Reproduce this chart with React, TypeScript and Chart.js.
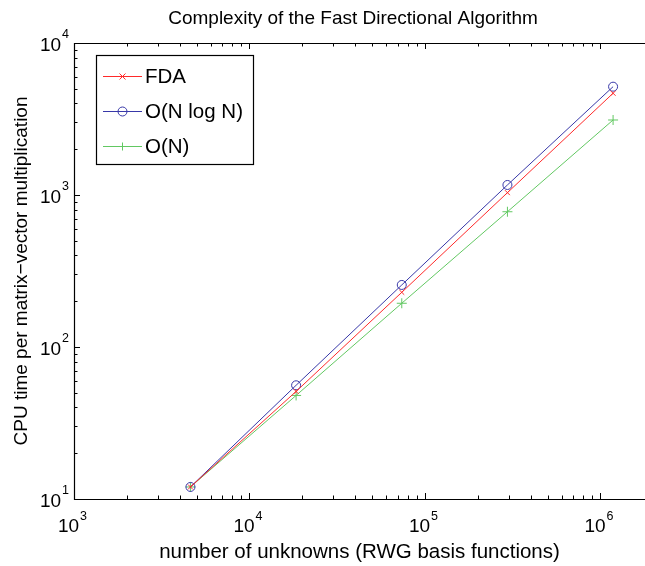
import React, { useEffect, useRef } from "react";
import { Chart, registerables } from "chart.js";

Chart.register(...registerables);

// ---- data ----
const unknowns = [4608, 18432, 73728, 294912, 1179648];
const fdaTime = [12, 51, 229, 1036, 4670];
const nlognTime = [12, 56, 256, 1164, 5160];
const linearTime = [12, 48, 194, 776, 3115];
const seriesLabels = ["FDA", "O(N log N)", "O(N)"];
const xTickExponents = [3, 4, 5, 6];
const yTickExponents = [1, 2, 3, 4];
const chartTitle = "Complexity of the Fast Directional Algorithm";
const xAxisTitle = "number of unknowns (RWG basis functions)";
const yAxisTitle = "CPU time per matrix\u2212vector multiplication";

const FONT = "'Liberation Sans', Arial, Helvetica, sans-serif";
const RED = "#ff2a2a";
const BLUE = "#3838a8";
const GREEN = "#62c862";
const seriesColors = [RED, BLUE, GREEN];
const seriesMarkers = ["crossRot", "circle", "cross"];

function drawMarker(ctx: CanvasRenderingContext2D, kind: string, x: number, y: number, color: string) {
  ctx.save();
  ctx.strokeStyle = color;
  ctx.lineWidth = 1;
  ctx.beginPath();
  if (kind === "crossRot") {
    const r = 3;
    ctx.moveTo(x - r, y - r); ctx.lineTo(x + r, y + r);
    ctx.moveTo(x + r, y - r); ctx.lineTo(x - r, y + r);
  } else if (kind === "circle") {
    ctx.arc(x, y, 4.5, 0, Math.PI * 2);
  } else {
    const r = 4;
    ctx.moveTo(x - r, y); ctx.lineTo(x + r, y);
    ctx.moveTo(x, y - r); ctx.lineTo(x, y + r);
  }
  ctx.stroke();
  ctx.restore();
}

const decorPlugin = {
  id: "decor",
  afterDatasetsDraw(chart: any) {
    const ctx: CanvasRenderingContext2D = chart.ctx;
    const area = chart.chartArea;
    const xs = chart.scales.x;
    const ys = chart.scales.y;
    ctx.save();
    // axes box (left, top, bottom)
    ctx.strokeStyle = "#000";
    ctx.lineWidth = 1.2;
    ctx.beginPath();
    ctx.moveTo(area.right + 1, Math.round(area.top) + 0.5);
    ctx.lineTo(Math.round(area.left) + 0.5, Math.round(area.top) + 0.5);
    ctx.lineTo(Math.round(area.left) + 0.5, Math.round(area.bottom) + 0.5);
    ctx.lineTo(area.right + 1, Math.round(area.bottom) + 0.5);
    ctx.stroke();

    // ticks
    ctx.lineWidth = 1;
    ctx.beginPath();
    for (let k = 2; k <= 7; k++) {
      for (let m = 1; m <= 9; m++) {
        const v = m * Math.pow(10, k);
        if (v < xs.min || v > xs.max) continue;
        const px = Math.round(xs.getPixelForValue(v)) + 0.5;
        const len = m === 1 ? 6 : 3.5;
        ctx.moveTo(px, area.bottom); ctx.lineTo(px, area.bottom - len);
        ctx.moveTo(px, area.top); ctx.lineTo(px, area.top + len);
      }
    }
    for (let k = 0; k <= 5; k++) {
      for (let m = 1; m <= 9; m++) {
        const v = m * Math.pow(10, k);
        if (v < ys.min || v > ys.max) continue;
        const py = Math.round(ys.getPixelForValue(v)) + 0.5;
        const len = m === 1 ? 6 : 3.5;
        ctx.moveTo(area.left, py); ctx.lineTo(area.left + len, py);
      }
    }
    ctx.stroke();

    // tick labels
    ctx.fillStyle = "#000";
    const baseFont = `19px ${FONT}`;
    const supFont = `12.5px ${FONT}`;
    ctx.textBaseline = "alphabetic";
    ctx.textAlign = "left";
    for (const e of xTickExponents) {
      const px = xs.getPixelForValue(Math.pow(10, e));
      ctx.font = baseFont;
      const w1 = ctx.measureText("10").width;
      ctx.font = supFont;
      const w2 = ctx.measureText(String(e)).width;
      const x0 = px - (w1 + w2) / 2 - 2;
      ctx.font = baseFont;
      ctx.fillText("10", x0, area.bottom + 33);
      ctx.font = supFont;
      ctx.fillText(String(e), x0 + w1 + 1, area.bottom + 21);
    }
    for (const e of yTickExponents) {
      const py = ys.getPixelForValue(Math.pow(10, e));
      ctx.font = supFont;
      const w2 = ctx.measureText(String(e)).width;
      ctx.font = baseFont;
      const w1 = ctx.measureText("10").width;
      const xr = area.left - 5;
      ctx.fillText("10", xr - w2 - 1 - w1, py + 8);
      ctx.font = supFont;
      ctx.fillText(String(e), xr - w2, py - 5);
    }

    // legend
    const lx = 96, ly = 55, lw = 157, lh = 109;
    ctx.fillStyle = "#fff";
    ctx.fillRect(lx, ly, lw, lh);
    ctx.strokeStyle = "#000";
    ctx.lineWidth = 1.2;
    ctx.strokeRect(lx + 0.5, ly + 0.5, lw, lh);
    const rows = [76, 111, 146];
    chart.data.datasets.forEach((ds: any, i: number) => {
      const y = rows[i] + 0.5;
      ctx.strokeStyle = ds.borderColor;
      ctx.lineWidth = 1;
      ctx.beginPath();
      ctx.moveTo(103, y); ctx.lineTo(142, y);
      ctx.stroke();
      drawMarker(ctx, seriesMarkers[i], 122.5, y, ds.borderColor);
      ctx.fillStyle = "#000";
      ctx.font = `20.5px ${FONT}`;
      ctx.textAlign = "left";
      ctx.textBaseline = "middle";
      ctx.fillText(ds.label, 145, rows[i] + 1);
    });

    // title
    ctx.fillStyle = "#000";
    ctx.font = `19px ${FONT}`;
    ctx.textAlign = "center";
    ctx.textBaseline = "middle";
    ctx.fillText(chartTitle, 353, 19);
    ctx.restore();
  },
};

export default function App() {
  const ref = useRef<HTMLCanvasElement | null>(null);
  useEffect(() => {
    if (!ref.current) return;
    const mk = (vals: number[]) => unknowns.map((x, i) => ({ x, y: vals[i] }));
    const seriesValues = [fdaTime, nlognTime, linearTime];
    const chart = new Chart(ref.current, {
      type: "line",
      data: {
        datasets: seriesValues.map((vals, i) => ({
          label: seriesLabels[i],
          data: mk(vals),
          borderColor: seriesColors[i],
          backgroundColor: "rgba(0,0,0,0)",
          pointBackgroundColor: "rgba(0,0,0,0)",
          pointBorderColor: seriesColors[i],
          pointStyle: seriesMarkers[i] as any,
          pointRadius: i === 0 ? 3.5 : i === 1 ? 4.5 : 5,
          pointBorderWidth: 1,
          borderWidth: 1,
          tension: 0,
          fill: false,
        })),
      },
      options: {
        animation: false,
        responsive: false,
        devicePixelRatio: 1,
        layout: { autoPadding: false, padding: { top: 43, right: 0, left: 0, bottom: 0 } },
        plugins: { legend: { display: false }, tooltip: { enabled: false }, title: { display: false } },
        scales: {
          x: {
            type: "logarithmic",
            min: 1000,
            max: 1.793e6,
            grid: { display: false },
            border: { display: false },
            ticks: { display: false },
            title: {
              display: true,
              text: xAxisTitle,
              color: "#000",
              font: { family: FONT, size: 20.5 },
              padding: { top: 0, bottom: 1 },
            },
            afterFit: (s: any) => { s.height = 67; },
          },
          y: {
            type: "logarithmic",
            min: 10,
            max: 10000,
            grid: { display: false },
            border: { display: false },
            ticks: { display: false },
            title: {
              display: true,
              text: yAxisTitle,
              color: "#000",
              font: { family: FONT, size: 19 },
              padding: { top: 10, bottom: 0 },
            },
            afterFit: (s: any) => { s.width = 74; },
          },
        },
      } as any,
      plugins: [decorPlugin],
    });
    return () => chart.destroy();
  }, []);
  return (
    <div style={{ position: "absolute", left: 0, top: 0, width: 645, height: 566, background: "#fff" }}>
      <canvas ref={ref} width={645} height={566} style={{ display: "block" }} />
    </div>
  );
}
